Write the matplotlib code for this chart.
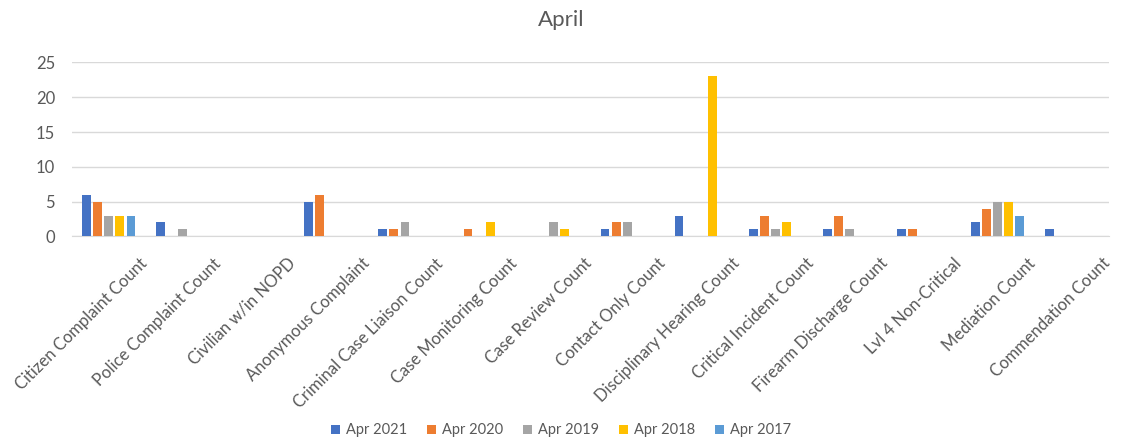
import numpy as np
import matplotlib.pyplot as plt
import matplotlib.transforms as mtransforms

plt.rcParams['font.family'] = ['Lato', 'DejaVu Sans']

categories = ["Citizen Complaint Count", "Police Complaint Count", "Civilian w/in NOPD",
              "Anonymous Complaint", "Criminal Case Liaison Count", "Case Monitoring Count",
              "Case Review Count", "Contact Only Count", "Disciplinary Hearing Count",
              "Critical Incident Count", "Firearm Discharge Count", "Lvl 4 Non-Critical",
              "Mediation Count", "Commendation Count"]

series_names = ["Apr 2021", "Apr 2020", "Apr 2019", "Apr 2018", "Apr 2017"]
apr_2021 = [6, 2, 0, 5, 1, 0, 0, 1, 3, 1, 1, 1, 2, 1]
apr_2020 = [5, 0, 0, 6, 1, 1, 0, 2, 0, 3, 3, 1, 4, 0]
apr_2019 = [3, 1, 0, 0, 2, 0, 2, 2, 0, 1, 1, 0, 5, 0]
apr_2018 = [3, 0, 0, 0, 0, 2, 1, 0, 23, 2, 0, 0, 5, 0]
apr_2017 = [3, 0, 0, 0, 0, 0, 0, 0, 0, 0, 0, 0, 3, 0]
colors = ["#4472C4", "#ED7D31", "#A5A5A5", "#FFC000", "#5B9BD5"]

fig = plt.figure(figsize=(11.22, 4.46), dpi=100)
ax = fig.add_axes([0.064, 0.47, 0.924, 0.39])

x = np.arange(len(categories))
step = 0.15
width = 0.12
all_series = [apr_2021, apr_2020, apr_2019, apr_2018, apr_2017]
for i, (vals, name, c) in enumerate(zip(all_series, series_names, colors)):
    ax.bar(x + (i - 2) * step, vals, width, color=c, label=name, zorder=3)

ax.set_xlim(-0.5, len(categories) - 0.5)
ax.set_ylim(0, 25)
ax.set_yticks([0, 5, 10, 15, 20, 25])
ax.grid(axis='y', color='#D9D9D9', linewidth=1, zorder=0)
for s in ['top', 'right', 'left']:
    ax.spines[s].set_visible(False)
ax.spines['bottom'].set_color('#D9D9D9')
ax.tick_params(axis='both', length=0, colors='#595959', labelsize=12)
ax.tick_params(axis='y', pad=12)
ax.set_xticks(x)
ax.set_xticklabels(categories, rotation=45, ha='right', va='top',
                   rotation_mode='anchor', fontsize=12)
# push the rotated labels so their ends sit right of each group, like Excel
offset = mtransforms.ScaledTranslation(0.30, -0.14, fig.dpi_scale_trans)
for lbl in ax.get_xticklabels():
    lbl.set_transform(lbl.get_transform() + offset)

fig.text(0.5, 0.955, "April", ha='center', va='center', fontsize=16, color='#595959')

fig.legend(loc='lower center', ncol=5, frameon=False, fontsize=10.5,
           bbox_to_anchor=(0.5, -0.01), handlelength=0.6, handleheight=0.6,
           columnspacing=1.4, handletextpad=0.4, labelcolor='#595959')

fig.savefig("out.png", dpi=100)
